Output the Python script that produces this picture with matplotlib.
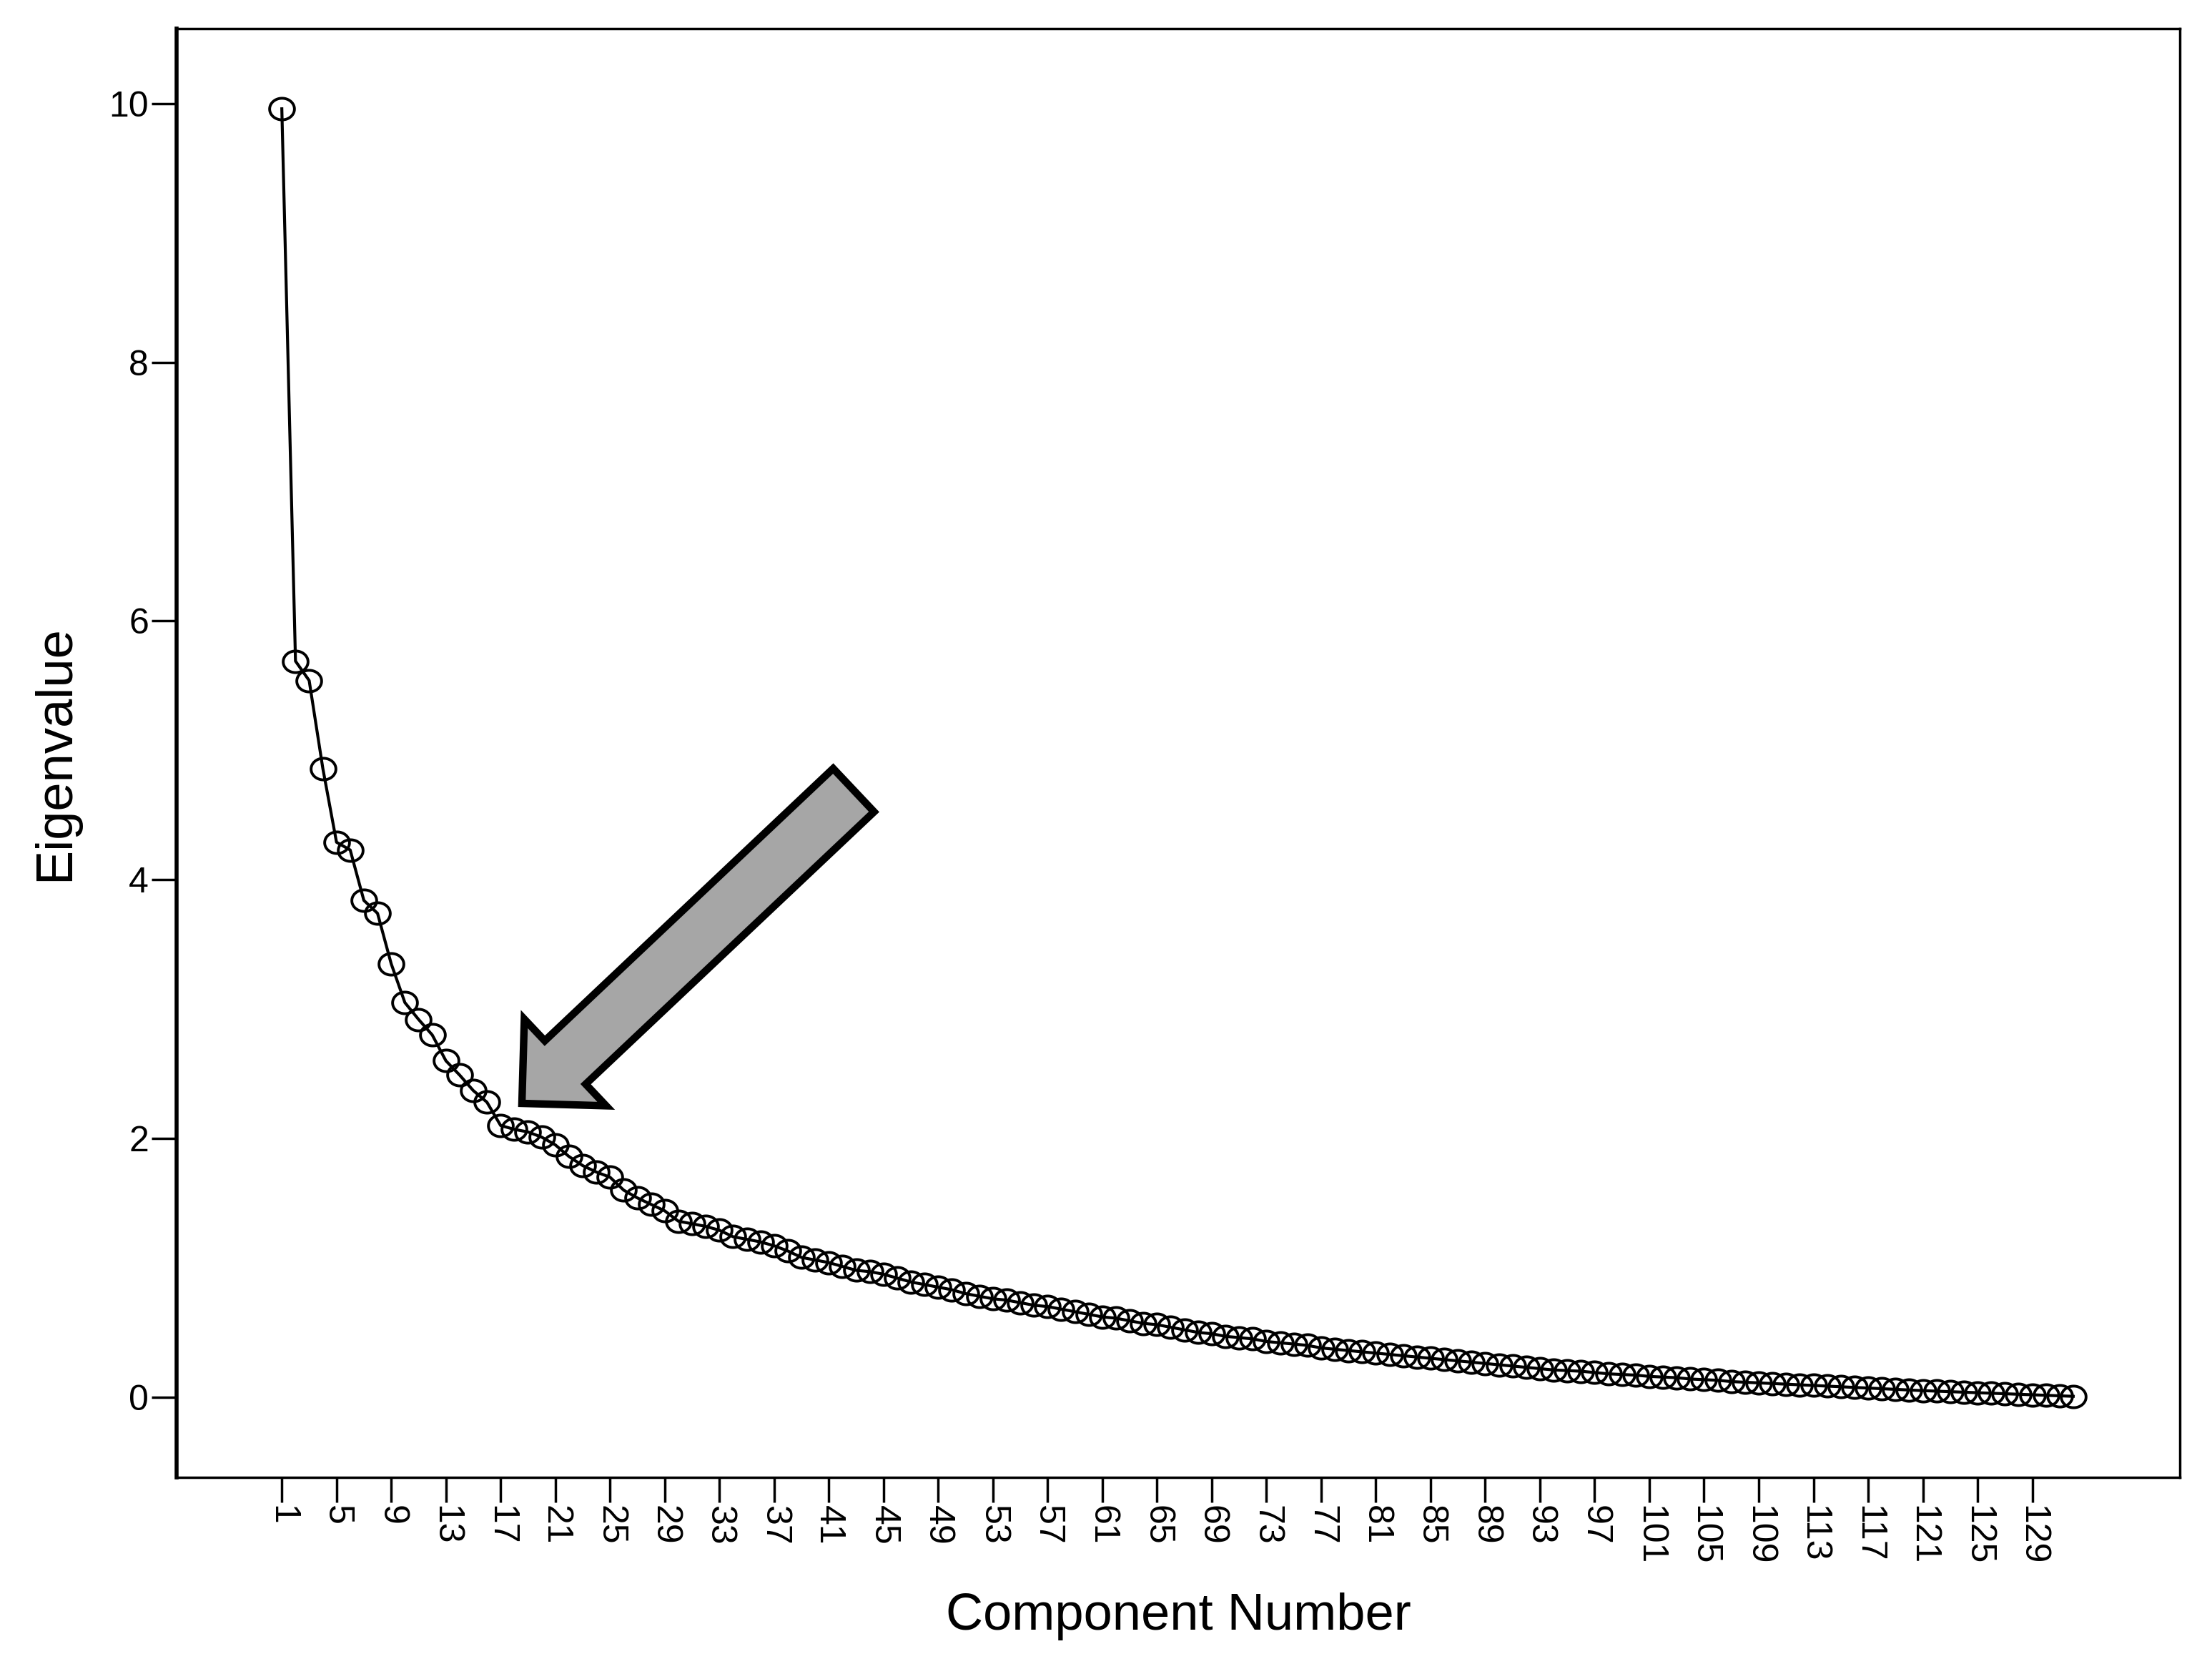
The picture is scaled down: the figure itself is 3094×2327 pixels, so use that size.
import matplotlib
matplotlib.use("Agg")
import matplotlib.pyplot as plt
import numpy as np
from matplotlib.path import Path
from matplotlib.patches import FancyArrowPatch

plt.rcParams["font.family"] = ["Liberation Sans", "DejaVu Sans"]

# Scree plot data: eigenvalue per component
components = list(range(1, 133))
eigenvalues = [
    9.96, 5.69, 5.54, 4.86, 4.29, 4.23, 3.84, 3.74, 3.35, 3.05,
    2.92, 2.80, 2.60, 2.49, 2.37, 2.28, 2.10, 2.07, 2.05, 2.01,
    1.95, 1.86, 1.79, 1.74, 1.70, 1.60, 1.54, 1.49, 1.44, 1.36,
    1.34, 1.32, 1.29, 1.24, 1.22, 1.20, 1.17, 1.13, 1.08, 1.06,
    1.04, 1.01, 0.98, 0.97, 0.95, 0.92, 0.89, 0.87, 0.85, 0.83,
    0.80, 0.78, 0.76, 0.75, 0.73, 0.71, 0.70, 0.68, 0.66, 0.64,
    0.62, 0.61, 0.59, 0.57, 0.56, 0.54, 0.52, 0.50, 0.49, 0.47,
    0.46, 0.45, 0.43, 0.42, 0.41, 0.40, 0.38, 0.37, 0.36, 0.35,
    0.34, 0.33, 0.32, 0.31, 0.30, 0.29, 0.28, 0.27, 0.26, 0.25,
    0.24, 0.23, 0.22, 0.21, 0.205, 0.20, 0.19, 0.18, 0.175, 0.17,
    0.16, 0.155, 0.15, 0.14, 0.135, 0.13, 0.12, 0.115, 0.11, 0.105,
    0.10, 0.095, 0.09, 0.085, 0.08, 0.075, 0.07, 0.065, 0.06, 0.055,
    0.05, 0.046, 0.042, 0.038, 0.034, 0.03, 0.026, 0.022, 0.018, 0.014,
    0.01, 0.006,
]
x_ticks = list(range(1, 130, 4))
y_ticks = [0, 2, 4, 6, 8, 10]

# slightly wide ellipse marker, the source image is stretched sideways
t = np.linspace(0, 2 * np.pi, 60)
ellipse = Path(np.column_stack([1.15 * np.cos(t), np.sin(t)]), closed=True)

fig = plt.figure(figsize=(30.94, 23.27), dpi=100)
ax = fig.add_axes([0.0798, 0.1122, 0.9057, 0.8706])

ax.plot(components, eigenvalues, color="black", linewidth=3,
        marker=ellipse, markersize=25, markerfacecolor="none",
        markeredgecolor="black", markeredgewidth=2.8)

ax.set_xlim(-6.7, 139.8)
ax.set_ylim(-0.62, 10.58)
ax.set_xticks(x_ticks)
ax.set_xticklabels([str(v) for v in x_ticks], rotation=270, va="top", ha="center")
ax.set_yticks(y_ticks)
ax.tick_params(axis="both", length=25, width=2.5, labelsize=36, pad=3, colors="black")

for side in ax.spines.values():
    side.set_linewidth(2.5)
ax.spines["left"].set_linewidth(4)

ax.set_xlabel("Component Number", fontsize=52, labelpad=28)
ax.set_ylabel("Eigenvalue", fontsize=52, labelpad=30)

# big grey arrow pointing at the elbow
arrow = FancyArrowPatch((1194 / 3094, 1 - 1105 / 2327), (730 / 3094, 1 - 1543 / 2327),
                        transform=fig.transFigure,
                        arrowstyle="simple,head_width=120,head_length=60,tail_width=60",
                        mutation_scale=1, shrinkA=0, shrinkB=0,
                        facecolor="#a6a6a6", edgecolor="black", linewidth=7.5,
                        joinstyle="miter")
fig.patches.append(arrow)

fig.savefig("out.png", dpi=100)
